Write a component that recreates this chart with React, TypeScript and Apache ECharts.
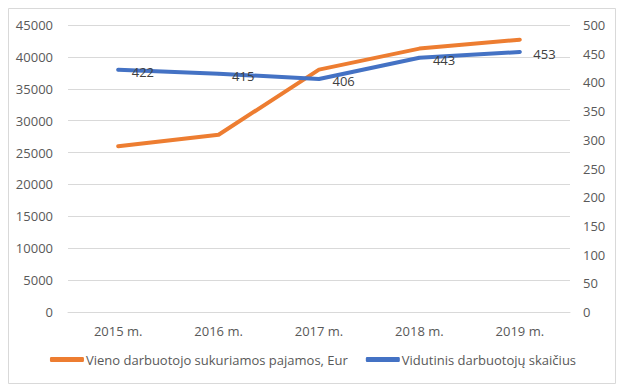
import React, { useEffect, useRef } from "react";
import * as echarts from "echarts";

const categories = ["2015 m.", "2016 m.", "2017 m.", "2018 m.", "2019 m."];
const revenuePerEmployee = [26000, 27800, 38000, 41300, 42700];
const avgEmployees = [422, 415, 406, 443, 453];
const seriesNames = ["Vieno darbuotojo sukuriamos pajamos, Eur", "Vidutinis darbuotojų skaičius"];

const FONT = "Open Sans";
const TEXT = "#595959";
const FS = 13;

export default function App() {
  const ref = useRef<HTMLDivElement>(null);
  useEffect(() => {
    if (!ref.current) return;
    const chart = echarts.init(ref.current, undefined, { renderer: "svg" });
    chart.setOption({
      animation: false,
      backgroundColor: "#ffffff",
      textStyle: { fontFamily: FONT },
      graphic: [
        {
          type: "rect",
          shape: { x: 8.5, y: 8.5, width: 607, height: 375 },
          style: { fill: "none", stroke: "#D9D9D9", lineWidth: 1 },
          silent: true,
        },
      ],
      grid: { left: 68, right: 56, top: 25, bottom: 79 },
      legend: {
        bottom: 20,
        left: "center",
        itemGap: 18,
        itemWidth: 34,
        itemHeight: 5,
        textStyle: { color: TEXT, fontSize: FS, fontFamily: FONT, padding: [0, 0, 0, -3] },
        data: [
          { name: seriesNames[0], icon: "roundRect", itemStyle: { color: "#ED7D31", opacity: 1 } },
          { name: seriesNames[1], icon: "roundRect", itemStyle: { color: "#4472C4", opacity: 1 } },
        ],
      },
      xAxis: {
        type: "category",
        data: categories,
        boundaryGap: true,
        axisLine: { show: true, lineStyle: { color: "#D9D9D9" } },
        axisTick: { show: false },
        axisLabel: { color: TEXT, fontSize: FS, margin: 12, fontFamily: FONT },
      },
      yAxis: [
        {
          type: "value",
          min: 0,
          max: 45000,
          interval: 5000,
          axisLine: { show: false },
          axisTick: { show: false },
          axisLabel: {
            color: TEXT,
            fontSize: FS,
            margin: 15,
            fontFamily: FONT,
            formatter: (v: number) => String(v),
          },
          splitLine: { lineStyle: { color: "#D9D9D9" } },
        },
        {
          type: "value",
          min: 0,
          max: 500,
          interval: 50,
          axisLine: { show: false },
          axisTick: { show: false },
          axisLabel: {
            color: TEXT,
            fontSize: FS,
            margin: 13,
            fontFamily: FONT,
            formatter: (v: number) => String(v),
          },
          splitLine: { show: false },
        },
      ],
      series: [
        {
          name: seriesNames[0],
          type: "line",
          yAxisIndex: 0,
          data: revenuePerEmployee,
          symbol: "none",
          lineStyle: { color: "#ED7D31", width: 4, cap: "round", join: "round" },
          itemStyle: { color: "#ED7D31" },
        },
        {
          name: seriesNames[1],
          type: "line",
          yAxisIndex: 1,
          data: avgEmployees,
          symbol: "circle",
          symbolSize: 3,
          showSymbol: true,
          lineStyle: { color: "#4472C4", width: 4, cap: "round", join: "round" },
          itemStyle: { color: "#4472C4" },
          label: {
            show: true,
            position: "right",
            distance: 12,
            offset: [0, 2],
            color: "#404040",
            fontSize: FS,
            fontFamily: FONT,
          },
        },
      ],
    });
    return () => chart.dispose();
  }, []);
  return (
    <div
      ref={ref}
      style={{ position: "fixed", left: 0, top: 0, width: 626, height: 391 }}
    />
  );
}
